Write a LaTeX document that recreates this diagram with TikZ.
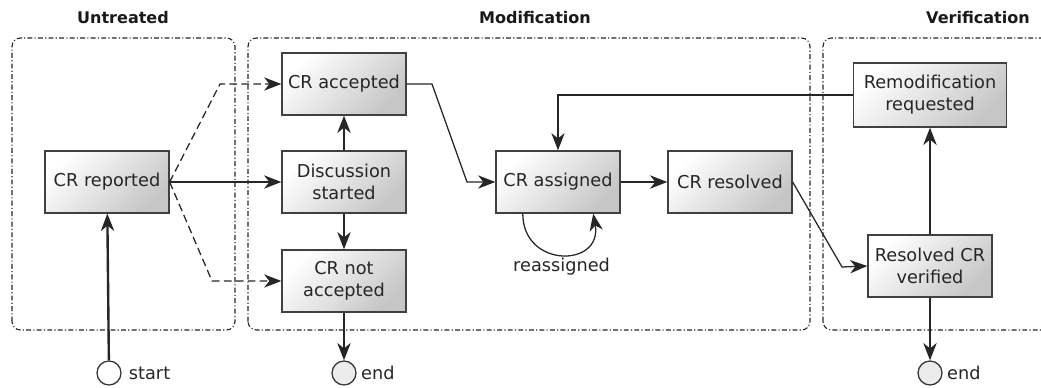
\documentclass[tikz,border=0pt]{standalone}
\usepackage{fontspec}
\setmainfont{DejaVu Sans}
\usetikzlibrary{arrows.meta,positioning}

\tikzset{
  state/.style={draw=black!75, line width=0.9pt, top color=white, bottom color=gray!45, shading angle=45,
    minimum width=3.1cm, minimum height=1.55cm, inner sep=2pt, align=center, text=black!85,
    font=\fontsize{12.6}{15.6}\selectfont},
  frame/.style={draw=black!85, line width=0.8pt, rounded corners=6pt,
    dash pattern=on 3.5pt off 1.6pt on 0.8pt off 1.6pt},
  title/.style={font=\fontsize{11.4}{13}\selectfont\bfseries, text=black!90},
  flow/.style={-{Stealth[length=4.3mm,width=3.3mm,inset=1.3mm]}, line width=1.7pt, draw=black!85},
  thinflow/.style={-{Stealth[length=4.3mm,width=3.3mm,inset=1.3mm]}, line width=0.9pt, draw=black!85},
  dashflow/.style={thinflow, dash pattern=on 5.5pt off 3pt},
  term/.style={circle, draw=black!80, line width=0.9pt, minimum size=0.6cm, inner sep=0pt},
  termlabel/.style={font=\fontsize{12.6}{15}\selectfont, text=black!85, inner sep=0pt}
}

\begin{document}
\begin{tikzpicture}[x=0.025cm, y=0.025cm]
  \useasboundingbox (0,0) rectangle (1041,388);

  % Phase frames
  \draw[frame] (12,58) rectangle (235,350);
  \draw[frame] (248,58) rectangle (810,350);
  \draw[frame] (823,58) rectangle (1070,350);
  \node[title] (tuntreated) at (123,370) {Untreated};
  \node[title] (tmodif) at (535,370) {Modification};
  \node[title] (tverif) at (978,370) {Verification};

  % States
  \node[state] (reported) at (107,206) {CR reported};
  \node[state] (accepted) at (344,304) {CR accepted};
  \node[state] (discussion) at (344,206) {Discussion\\started};
  \node[state] (notaccepted) at (344,107) {CR not\\accepted};
  \node[state] (assigned) at (558,206) {CR assigned};
  \node[state] (resolved) at (730,206) {CR resolved};
  \node[state, minimum width=3.83cm, minimum height=1.6cm] (remod) at (930,293) {Remodification\\requested};
  \node[state] (verified) at (930,122) {Resolved CR\\verified};

  % Start and end
  \node[term, fill=white] (start) at (109,15) {};
  \node[termlabel, right=5pt of start] (startlbl) {start};
  \node[term, fill=gray!15] (end1) at (344,15) {};
  \node[termlabel, right=3pt of end1] (end1lbl) {end};
  \node[term, fill=gray!15] (end2) at (930,15) {};
  \node[termlabel, right=3pt of end2] (end2lbl) {end};

  % Corners of the bent connectors
  \coordinate (c1) at (220,304);
  \coordinate (c2) at (212,107);
  \coordinate (c3) at (432,304);
  \coordinate (c4) at (467,206);
  \coordinate (c5) at (842,121);

  % Connectors
  \draw[flow] (start) -- (reported);
  \draw[flow] (reported) -- (discussion);
  \draw[dashflow] (reported.east) -- (c1) -- (accepted.west);
  \draw[dashflow] (reported.east) -- (c2) -- (notaccepted.west);
  \draw[flow] (discussion) -- (accepted);
  \draw[flow] (discussion) -- (notaccepted);
  \draw[flow] (notaccepted) -- (end1);
  \draw[thinflow] (accepted.east) -- (c3) -- (c4) -- (assigned.west);
  \draw[flow] (assigned) -- (resolved);
  \draw[thinflow] (resolved.east) -- (c5) -- (verified.west);
  \draw[flow] (verified) -- (remod);
  \draw[flow] (verified) -- (end2);
  \draw[thinflow] (remod.west) -| (assigned.north);
  \draw[thinflow] ([xshift=-0.88cm]assigned.south) to[out=-90, in=-80, looseness=2]
    node[below, termlabel, inner sep=2pt] (reassign) {reassigned} ([xshift=0.88cm]assigned.south);
\end{tikzpicture}
\end{document}
